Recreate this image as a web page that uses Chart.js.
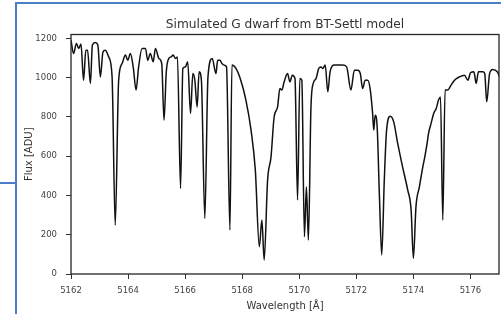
<!DOCTYPE html>
<html>
<head>
<meta charset="utf-8">
<script src="https://cdn.jsdelivr.net/npm/chart.js@4/dist/chart.umd.min.js"></script>
<style>
  html, body { margin: 0; padding: 0; background: #fff; }
  #wrap { position: relative; width: 501px; height: 314px; }
  .blue { position: absolute; background: #4a7ec8; }
</style>
</head>
<body>
<div id="wrap">
  <canvas id="c"></canvas>
  <div class="blue" style="left:15px;top:2px;width:486px;height:2px"></div>
  <div class="blue" style="left:15px;top:2px;width:2px;height:312px"></div>
  <div class="blue" style="left:0;top:182px;width:16px;height:1.5px"></div>
</div>
<script>
// spectrum
const wavelength = [
  5162.00, 5162.09, 5162.19, 5162.27, 5162.35, 5162.44, 5162.52, 5162.58, 5162.68, 5162.75,
  5162.85, 5162.94, 5163.03, 5163.12, 5163.20, 5163.32, 5163.44, 5163.55, 5163.67, 5163.79,
  5163.91, 5163.99, 5164.08, 5164.18, 5164.28, 5164.37, 5164.49, 5164.61, 5164.69, 5164.78,
  5164.88, 5164.96, 5165.08, 5165.18, 5165.26, 5165.34, 5165.43, 5165.51, 5165.58, 5165.66,
  5165.73, 5165.84, 5165.92, 5166.01, 5166.09, 5166.19, 5166.27, 5166.34, 5166.42, 5166.49,
  5166.57, 5166.69, 5166.80, 5166.95, 5167.08, 5167.14, 5167.22, 5167.29, 5167.37, 5167.45,
  5167.57, 5167.64, 5167.78, 5167.95, 5168.13, 5168.31, 5168.46, 5168.60, 5168.69, 5168.77,
  5168.89, 5169.01, 5169.12, 5169.24, 5169.32, 5169.39, 5169.47, 5169.59, 5169.67, 5169.76,
  5169.85, 5169.94, 5170.02, 5170.09, 5170.18, 5170.25, 5170.32, 5170.41, 5170.49, 5170.59,
  5170.68, 5170.76, 5170.82, 5170.91, 5171.00, 5171.08, 5171.23, 5171.40, 5171.52, 5171.66,
  5171.81, 5171.93, 5172.05, 5172.14, 5172.22, 5172.31, 5172.40, 5172.49, 5172.57, 5172.61,
  5172.66, 5172.73, 5172.81, 5172.89, 5172.98, 5173.06, 5173.19, 5173.31, 5173.45, 5173.62,
  5173.80, 5173.92, 5174.00, 5174.09, 5174.21, 5174.33, 5174.39, 5174.48, 5174.53, 5174.62,
  5174.71, 5174.80, 5174.88, 5174.95, 5175.03, 5175.11, 5175.20, 5175.32, 5175.44, 5175.61,
  5175.79, 5175.91, 5176.00, 5176.12, 5176.20, 5176.28, 5176.43, 5176.50, 5176.57, 5176.67,
  5176.78, 5176.94, 5177.02
];
const flux = [
  1191, 1123, 1174, 1149, 1171, 987, 1140, 1140, 971, 1166,
  1179, 1166, 1004, 1131, 1140, 1106, 1004, 249, 987, 1072,
  1115, 1089, 1123, 1055, 937, 1055, 1149, 1149, 1089, 1123,
  1081, 1149, 1098, 1072, 784, 1030, 1098, 1106, 1115, 1098,
  1106, 436, 1047, 1055, 1081, 818, 1021, 987, 851, 1030,
  987, 283, 1004, 1098, 1021, 1089, 1089, 1072, 1064, 1055,
  224, 1064, 1047, 987, 886, 733, 529, 139, 275, 71,
  478, 597, 801, 851, 945, 937, 979, 1021, 979, 1013,
  996, 377, 996, 987, 190, 444, 173, 851, 971, 996,
  1047, 1055, 1047, 1064, 928, 1030, 1064, 1064, 1064, 1055,
  937, 1038, 1038, 1021, 945, 987, 987, 937, 818, 733,
  809, 750, 393, 97, 478, 733, 804, 775, 665, 546,
  428, 326, 80, 343, 444, 546, 589, 665, 716, 767,
  818, 843, 886, 902, 275, 937, 937, 962, 987, 1004,
  1013, 987, 1025, 1030, 971, 1030, 1030, 1021, 877, 1021,
  1042, 1030, 1004
];
const xTicks = [5162, 5164, 5166, 5168, 5170, 5172, 5174, 5176];
const yTicks = [0, 200, 400, 600, 800, 1000, 1200];
const titleText = 'Simulated G dwarf from BT-Settl model';
const xLabel = 'Wavelength [Å]';
const yLabel = 'Flux [ADU]';

const FONT = 'DejaVu Sans';

// matplotlib style box around the axes plus the title over the plot centre
const frame = {
  id: 'frame',
  afterDraw(chart) {
    const { ctx, chartArea: a } = chart;
    ctx.save();
    ctx.strokeStyle = '#262626';
    ctx.lineWidth = 1.3;
    ctx.strokeRect(a.left, a.top, a.right - a.left, a.bottom - a.top);
    ctx.fillStyle = '#333';
    ctx.font = '12.2px "' + FONT + '"';
    ctx.textAlign = 'center';
    ctx.textBaseline = 'middle';
    ctx.fillText(titleText, (a.left + a.right) / 2, 25);
    ctx.restore();
  }
};

new Chart(document.getElementById('c'), {
  type: 'line',
  data: {
    datasets: [{
      data: wavelength.map((w, i) => ({ x: w, y: flux[i] })),
      borderColor: '#111',
      borderWidth: 1.5,
      pointRadius: 0,
      cubicInterpolationMode: 'monotone',
      fill: false
    }]
  },
  options: {
    responsive: true,
    maintainAspectRatio: false,
    animation: false,
    layout: { padding: { top: 34.5, right: 2, left: 0, bottom: 0 } },
    plugins: { legend: { display: false }, tooltip: { enabled: false }, title: { display: false } },
    scales: {
      x: {
        type: 'linear',
        min: 5162,
        max: 5177,
        afterBuildTicks: s => { s.ticks = xTicks.map(v => ({ value: v })); },
        afterFit: s => { s.height = 40; },
        border: { display: false },
        grid: { drawOnChartArea: false, tickLength: 5, tickColor: '#333', lineWidth: 1 },
        ticks: { color: '#444', font: { family: FONT, size: 8.5 }, padding: 7, maxRotation: 0, callback: v => String(v) },
        title: { display: true, text: xLabel, color: '#333', font: { family: FONT, size: 10 }, padding: { top: 0, bottom: 1.5 } }
      },
      y: {
        min: 0,
        max: 1220,
        afterBuildTicks: s => { s.ticks = yTicks.map(v => ({ value: v })); },
        afterFit: s => { s.width = 71; },
        border: { display: false },
        grid: { drawOnChartArea: false, tickLength: 5, tickColor: '#333', lineWidth: 1 },
        ticks: { color: '#444', font: { family: FONT, size: 8.5 }, padding: 9, callback: v => String(v) },
        title: { display: true, text: yLabel, color: '#333', font: { family: FONT, size: 10 }, padding: { top: 23, bottom: 0 } }
      }
    }
  },
  plugins: [frame]
});
</script>
</body>
</html>
